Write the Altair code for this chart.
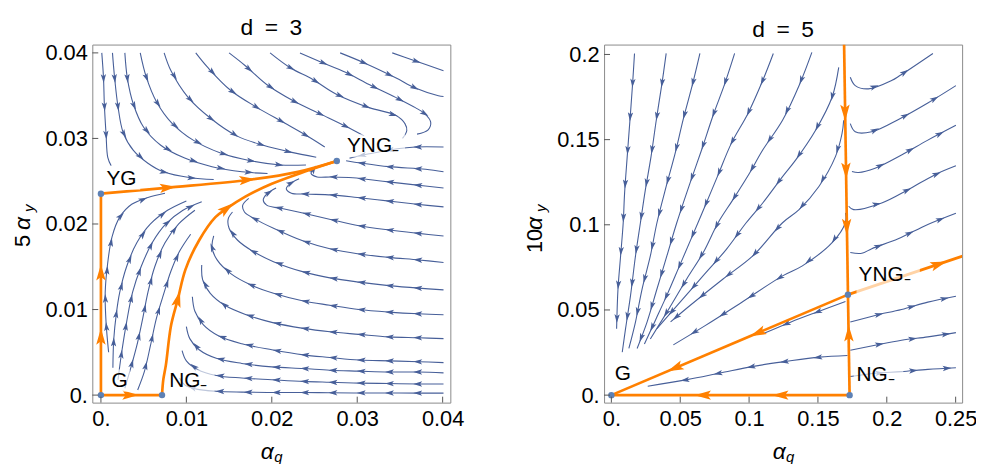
import math
import altair as alt
import pandas as pd

BLUE = "#475f99"
ORANGE = "#ff8000"
DOT = "#5e81b5"
FRAME = "#8a8a8a"
TICK = "#555555"
FONT = "Liberation Sans"
PW = 361
PH = 361
BLUE_ARROW = "M0,-1L0.6,1L0,0.55L-0.6,1Z"
ORANGE_ARROW = "M0,-1L0.55,0.9L0,0.5L-0.55,0.9Z"
LABEL_EXPR = "datum.value == 0 ? '0.' : format(datum.value, '.2~f')"

# ---------------- d = 3 ----------------
D3_X_DOMAIN = [-0.00101, 0.0409]
D3_Y_DOMAIN = [-0.00088, 0.04097]
D3_X_TICKS = [0, 0.01, 0.02, 0.03, 0.04]
D3_Y_TICKS = [0, 0.01, 0.02, 0.03, 0.04]

D3_A1 = [(0.0001, 0.0400), (0.0003, 0.0371), (0.0004, 0.0340), (0.0006, 0.0305), (0.0008, 0.0278), (0.0012, 0.0268)]
D3_A2 = [(0.00135, 0.0400), (0.0016, 0.0371), (0.0020, 0.0337), (0.0026, 0.0307), (0.0038, 0.0286), (0.0055, 0.0271), (0.0073, 0.0261), (0.0105, 0.0254), (0.0132, 0.0252)]
D3_A3 = [(0.0028, 0.0400), (0.0031, 0.0370), (0.0038, 0.0340), (0.0050, 0.0313), (0.0070, 0.0292), (0.0098, 0.0277), (0.0130, 0.0267), (0.0165, 0.0261), (0.0195, 0.0259)]
D3_A4 = [(0.0046, 0.0400), (0.0053, 0.0372), (0.0065, 0.0343), (0.0083, 0.0318), (0.0108, 0.0298), (0.0140, 0.0283), (0.0175, 0.0274), (0.0210, 0.0269), (0.0240, 0.0269)]
D3_A5 = [(0.0074, 0.0400), (0.0082, 0.0379), (0.0102, 0.0348), (0.0129, 0.0323), (0.0159, 0.0303), (0.0190, 0.0292), (0.0222, 0.0284), (0.0252, 0.0278)]
D3_A6 = [(0.0111, 0.0400), (0.0125, 0.0383), (0.0152, 0.0356), (0.0183, 0.0336), (0.0215, 0.0318), (0.0243, 0.0302), (0.0262, 0.0290)]
D3_A7 = [(0.0150, 0.0400), (0.0169, 0.0385), (0.0194, 0.0363), (0.0225, 0.0344), (0.0256, 0.0329), (0.0287, 0.0314), (0.0308, 0.0303)]
D3_H2 = [(0.0198, 0.0400), (0.0221, 0.0383), (0.0248, 0.0369), (0.0275, 0.0352), (0.0314, 0.0336), (0.0345, 0.0327), (0.0356, 0.0317), (0.0358, 0.0309), (0.0353, 0.0300)]
D3_H1 = [(0.0233, 0.0400), (0.0256, 0.0390), (0.0287, 0.0377), (0.0314, 0.0363), (0.0345, 0.0348), (0.0368, 0.0336), (0.0379, 0.0329), (0.0386, 0.0319), (0.0383, 0.0310), (0.0370, 0.0305)]
D3_T1 = [(0.0280, 0.0400), (0.0309, 0.0388), (0.0345, 0.0371), (0.0368, 0.0359), (0.0395, 0.0350), (0.0401, 0.0349)]
D3_T2 = [(0.0341, 0.0400), (0.0364, 0.0392), (0.0401, 0.0379)]
D3_R1 = [(0.0401, 0.0290), (0.0368, 0.0290), (0.0347, 0.0288), (0.0314, 0.0282), (0.0291, 0.0277)]
D3_R2 = [(0.0401, 0.0261), (0.0380, 0.0264), (0.0337, 0.0267), (0.0306, 0.0271), (0.0287, 0.0274)]
D3_R3 = [(0.0401, 0.0242), (0.0365, 0.0246), (0.0330, 0.0250), (0.0295, 0.0254), (0.0270, 0.0255), (0.0253, 0.0255), (0.0246, 0.0259), (0.0249, 0.0264), (0.0260, 0.0269)]
D3_R4 = [(0.0401, 0.0220), (0.0370, 0.0223), (0.0335, 0.0227), (0.0300, 0.0231), (0.0270, 0.0234), (0.0240, 0.0235), (0.0223, 0.0236), (0.0217, 0.0241), (0.0221, 0.0247), (0.0232, 0.0253)]
D3_CA = [(0.0401, 0.0186), (0.0372, 0.0189), (0.0337, 0.0193), (0.0302, 0.0198), (0.0270, 0.0205), (0.0240, 0.0212), (0.0212, 0.0218), (0.0194, 0.0222), (0.0190, 0.0228), (0.0194, 0.0235), (0.0205, 0.0242)]
D3_CB = [(0.0401, 0.0155), (0.0372, 0.0158), (0.0337, 0.0161), (0.0302, 0.0165), (0.0268, 0.0171), (0.0237, 0.0180), (0.0202, 0.0195), (0.0180, 0.0206), (0.0168, 0.0214), (0.0166, 0.0222), (0.0173, 0.0230)]
D3_CC = [(0.0401, 0.0123), (0.0372, 0.0125), (0.0337, 0.0128), (0.0302, 0.0132), (0.0268, 0.0137), (0.0237, 0.0144), (0.0202, 0.0156), (0.0178, 0.0168), (0.0160, 0.0181), (0.0150, 0.0195), (0.0149, 0.0206), (0.0154, 0.0214)]
D3_CD = [(0.0401, 0.0094), (0.0372, 0.0095), (0.0337, 0.0097), (0.0302, 0.0100), (0.0268, 0.0105), (0.0237, 0.0110), (0.0202, 0.0119), (0.0175, 0.0129), (0.0152, 0.0142), (0.0136, 0.0158), (0.0130, 0.0173), (0.0132, 0.0186)]
D3_CE = [(0.0401, 0.0066), (0.0372, 0.0067), (0.0337, 0.0068), (0.0302, 0.0071), (0.0268, 0.0074), (0.0237, 0.0078), (0.0200, 0.0085), (0.0170, 0.0094), (0.0145, 0.0105), (0.0128, 0.0119), (0.0119, 0.0135), (0.0118, 0.0152)]
D3_CF = [(0.0401, 0.0038), (0.0372, 0.0039), (0.0337, 0.0040), (0.0302, 0.0041), (0.0268, 0.0044), (0.0237, 0.0047), (0.0200, 0.0053), (0.0165, 0.0060), (0.0138, 0.0069), (0.0120, 0.0082), (0.0110, 0.0098), (0.0107, 0.0115)]
D3_CG = [(0.0401, 0.0026), (0.0372, 0.0027), (0.0337, 0.0027), (0.0302, 0.0028), (0.0268, 0.0029), (0.0237, 0.0031), (0.0200, 0.0033), (0.0165, 0.0037), (0.0135, 0.0043), (0.0115, 0.0053), (0.0104, 0.0066), (0.0100, 0.0080)]
D3_CH = [(0.0401, 0.0013), (0.0372, 0.0013), (0.0337, 0.00135), (0.0302, 0.0014), (0.0268, 0.0015), (0.0237, 0.0016), (0.0200, 0.0018), (0.0165, 0.0020), (0.0135, 0.0023), (0.0113, 0.0030), (0.0100, 0.0040), (0.0095, 0.0052)]
D3_CI = [(0.0401, 0.00023), (0.0372, 0.00023), (0.0337, 0.00025), (0.0302, 0.00025), (0.0268, 0.00028), (0.0237, 0.0003), (0.0200, 0.0003), (0.0165, 0.00035), (0.0135, 0.00045), (0.0112, 0.0007), (0.0098, 0.0012), (0.0092, 0.0020)]
D3_F1 = [(0.0009, 0.0050), (0.0006, 0.0085), (0.0005, 0.0120), (0.0008, 0.0155), (0.0013, 0.0185), (0.0022, 0.0208), (0.0036, 0.0223), (0.0055, 0.0231), (0.0075, 0.0236)]
D3_F2 = [(0.0014, 0.0032), (0.0015, 0.0065), (0.0018, 0.0095), (0.0022, 0.0120), (0.0030, 0.0150), (0.0042, 0.0178), (0.0058, 0.0200), (0.0078, 0.0216), (0.0100, 0.0227)]
D3_F3 = [(0.0020, 0.0018), (0.0024, 0.0048), (0.0030, 0.0085), (0.0037, 0.0120), (0.0047, 0.0150), (0.0060, 0.0178), (0.0076, 0.0200), (0.0096, 0.0216), (0.0118, 0.0226)]
D3_F4 = [(0.0028, 0.0008), (0.0035, 0.0032), (0.0043, 0.0062), (0.0049, 0.0090), (0.0055, 0.0120), (0.0063, 0.0150), (0.0075, 0.0178), (0.0091, 0.0200), (0.0110, 0.0216)]
D3_F5 = [(0.0043, 0.0006), (0.0051, 0.0028), (0.0058, 0.0058), (0.0065, 0.0090), (0.0074, 0.0120), (0.0082, 0.0145), (0.0092, 0.0168), (0.0105, 0.0188)]
D3_STREAMS = [D3_A1, D3_A2, D3_A3, D3_A4, D3_A5, D3_A6, D3_A7, D3_H2, D3_H1, D3_T1, D3_T2,
              D3_R1, D3_R2, D3_R3, D3_R4, D3_CA, D3_CB, D3_CC, D3_CD, D3_CE, D3_CF, D3_CG, D3_CH, D3_CI,
              D3_F1, D3_F2, D3_F3, D3_F4, D3_F5]

D3_OR_G_NG = [(0.0, 0.0), (0.00715, 0.0)]
D3_OR_G_YG = [(0.0, 0.0), (0.0, 0.02354)]
D3_OR_YG_YNG = [(0.0, 0.02354), (0.0076, 0.02423), (0.01765, 0.0252), (0.02306, 0.02609), (0.02761, 0.02736)]
D3_OR_NG_YNG = [(0.00715, 0.0), (0.0073, 0.0018), (0.0076, 0.0035), (0.0082, 0.0081), (0.0090, 0.0112), (0.0099, 0.0147),
                (0.0115, 0.0181), (0.0134, 0.0208), (0.0147, 0.0218), (0.0169, 0.0232), (0.0200, 0.0247), (0.0238, 0.0261), (0.02761, 0.02736)]
D3_ORANGE = [D3_OR_G_NG, D3_OR_G_YG, D3_OR_YG_YNG, D3_OR_NG_YNG]
D3_OR_ARROWS = [(0, 0.0034, 0.0), (1, 0.0, 0.0068), (1, 0.0, 0.0143), (2, 0.0078, 0.02425), (2, 0.0171, 0.02515),
                (3, 0.0090, 0.0112), (3, 0.0147, 0.0218)]
D3_DOTS = [(0.0, 0.0), (0.00715, 0.0), (0.0, 0.02354), (0.02761, 0.02736)]
D3_LABELS = [("YG", 0.00065, 0.0246), ("G", 0.00124, 0.0010), ("NG₋", 0.0080, 0.0010), ("YNG₋", 0.0288, 0.0284)]
D3_BOXES = [(0.0004, 0.0046, 0.0240, 0.0268), (0.0010, 0.0034, 0.0004, 0.0030),
            (0.0078, 0.0133, 0.0004, 0.0030), (0.0286, 0.0356, 0.0278, 0.0305)]

# ---------------- d = 5 ----------------
D5_X_DOMAIN = [-0.0053, 0.2547]
D5_Y_DOMAIN = [-0.0044, 0.2058]
D5_X_TICKS = [0, 0.05, 0.1, 0.15, 0.2, 0.25]
D5_Y_TICKS = [0, 0.05, 0.1, 0.15, 0.2]

D5_S1 = [(0.0168, 0.2006), (0.0154, 0.1827), (0.0134, 0.1604), (0.0115, 0.1400), (0.0096, 0.1186), (0.0086, 0.1012), (0.0067, 0.0817), (0.0048, 0.0623), (0.0038, 0.0390)]
D5_S2 = [(0.0398, 0.2006), (0.0367, 0.1827), (0.0326, 0.1614), (0.0288, 0.1400), (0.0247, 0.1206), (0.0211, 0.1012), (0.0175, 0.0817), (0.0139, 0.0584), (0.0103, 0.0390), (0.0079, 0.0252)]
D5_S3 = [(0.0643, 0.2006), (0.0590, 0.1827), (0.0523, 0.1623), (0.0463, 0.1419), (0.0398, 0.1225), (0.0331, 0.1012), (0.0283, 0.0817), (0.0223, 0.0623), (0.0175, 0.0429), (0.0127, 0.0274)]
D5_S4 = [(0.0895, 0.2006), (0.0823, 0.1827), (0.0739, 0.1643), (0.0655, 0.1439), (0.0571, 0.1245), (0.0475, 0.1012), (0.0403, 0.0817), (0.0331, 0.0623), (0.0259, 0.0429), (0.0187, 0.0274)]
D5_S5 = [(0.1176, 0.2006), (0.1099, 0.1847), (0.0991, 0.1652), (0.0871, 0.1478), (0.0775, 0.1293), (0.0675, 0.1100), (0.0575, 0.0910), (0.0490, 0.0750), (0.0405, 0.0590), (0.0320, 0.0440), (0.0240, 0.0300)]
D5_S6 = [(0.1456, 0.2012), (0.1368, 0.1827), (0.1243, 0.1614), (0.1099, 0.1439), (0.1003, 0.1303), (0.0883, 0.1148), (0.0775, 0.1012), (0.0667, 0.0837), (0.0547, 0.0682), (0.0403, 0.0487), (0.0283, 0.0330)]
D5_S7 = [(0.1651, 0.1924), (0.1603, 0.1750), (0.1483, 0.1555), (0.1339, 0.1381), (0.1243, 0.1283), (0.1099, 0.1128), (0.0979, 0.1012), (0.0835, 0.0856), (0.0667, 0.0701), (0.0499, 0.0546), (0.0331, 0.0390)]
D5_S8 = [(0.1687, 0.1614), (0.1675, 0.1536), (0.1627, 0.1400), (0.1507, 0.1225), (0.1363, 0.1089), (0.1243, 0.1012), (0.1027, 0.0817), (0.0811, 0.0682), (0.0571, 0.0526), (0.0430, 0.0430)]
D5_S9 = [(0.1700, 0.1070), (0.1699, 0.1012), (0.1603, 0.0895), (0.1387, 0.0759), (0.1243, 0.0700), (0.0945, 0.0544), (0.0681, 0.0408), (0.0450, 0.0295)]
D5_SB = [(0.1700, 0.0550), (0.1500, 0.0490), (0.1305, 0.0430), (0.1100, 0.0360)]
D5_LA = [(0.1715, 0.0233), (0.1510, 0.0223), (0.1270, 0.0198), (0.1030, 0.0169), (0.0790, 0.0130), (0.0550, 0.0091), (0.0264, 0.0052)]
D5_R1 = [(0.1735, 0.1866), (0.1771, 0.1817), (0.1867, 0.1798), (0.2035, 0.1847), (0.2095, 0.1876), (0.2335, 0.2006)]
D5_R2 = [(0.1735, 0.1594), (0.1771, 0.1546), (0.1890, 0.1546), (0.2095, 0.1623), (0.2298, 0.1715), (0.2502, 0.1817)]
D5_R3 = [(0.1747, 0.1313), (0.1795, 0.1307), (0.1915, 0.1332), (0.2107, 0.1410), (0.2298, 0.1497), (0.2502, 0.1584)]
D5_R4 = [(0.1723, 0.1109), (0.1759, 0.1089), (0.1963, 0.1128), (0.2155, 0.1206), (0.2347, 0.1293), (0.2502, 0.1346)]
D5_R5 = [(0.1735, 0.0837), (0.1819, 0.0833), (0.1891, 0.0860), (0.2083, 0.0918), (0.2298, 0.1002), (0.2502, 0.1068)]
D5_R6 = [(0.1735, 0.0429), (0.1915, 0.0468), (0.2107, 0.0503), (0.2298, 0.0546), (0.2502, 0.0581)]
D5_R7 = [(0.1735, 0.0264), (0.1915, 0.0293), (0.2107, 0.0322), (0.2298, 0.0342), (0.2502, 0.0367)]
D5_R8 = [(0.1735, 0.0109), (0.1915, 0.0128), (0.2107, 0.0138), (0.2298, 0.0151), (0.2502, 0.0161)]
D5_STREAMS = [D5_S1, D5_S2, D5_S3, D5_S4, D5_S5, D5_S6, D5_S7, D5_S8, D5_S9, D5_SB, D5_LA,
              D5_R1, D5_R2, D5_R3, D5_R4, D5_R5, D5_R6, D5_R7, D5_R8]

D5_OR_TOP = [(0.1690, 0.2058), (0.1718, 0.0590)]
D5_OR_NG_YNG = [(0.1730, 0.0), (0.1718, 0.0590)]
D5_OR_YNG_G = [(0.1718, 0.0590), (0.0, 0.0)]
D5_OR_YNG_OUT = [(0.1718, 0.0590), (0.2550, 0.0816)]
D5_OR_NG_G = [(0.1730, 0.0), (0.0, 0.0)]
D5_ORANGE = [D5_OR_TOP, D5_OR_NG_YNG, D5_OR_YNG_G, D5_OR_YNG_OUT, D5_OR_NG_G]
D5_OR_ARROWS = [(0, 0.1697, 0.166), (0, 0.1704, 0.132), (0, 0.1709, 0.099), (1, 0.1724, 0.036),
                (2, 0.0465, 0.016), (2, 0.1065, 0.0366), (3, 0.2375, 0.0768), (4, 0.0667, 0.0), (4, 0.1230, 0.0)]
D5_DOTS = [(0.0, 0.0), (0.1730, 0.0), (0.1718, 0.0590)]
D5_LABELS = [("G", 0.0024, 0.0090), ("NG₋", 0.1780, 0.0085), ("YNG₋", 0.1795, 0.0670)]
D5_BOXES = [(-0.003, 0.020, 0.008, 0.025), (0.176, 0.212, 0.004, 0.021), (0.178, 0.224, 0.060, 0.082)]


def scales(xdom, ydom, xticks, yticks):
    X = alt.X("x:Q", scale=alt.Scale(domain=xdom, nice=False, zero=False),
              axis=alt.Axis(values=xticks, labelExpr=LABEL_EXPR, ticks=False, domain=False, grid=False,
                            labelFont=FONT, labelFontSize=22, labelColor="black", labelPadding=6,
                            labelFlush=False, title=None))
    Y = alt.Y("y:Q", scale=alt.Scale(domain=ydom, nice=False, zero=False),
              axis=alt.Axis(values=yticks, labelExpr=LABEL_EXPR, ticks=False, domain=False, grid=False,
                            labelFont=FONT, labelFontSize=22, labelColor="black", labelPadding=5,
                            labelFlush=False, title=None))
    return X, Y


def along(pts, sx, sy, first, step):
    px = [(x * sx, y * sy) for x, y in pts]
    segs = [math.hypot(px[i + 1][0] - px[i][0], px[i + 1][1] - px[i][1]) for i in range(len(px) - 1)]
    total = sum(segs)
    out = []
    d = first
    while d < total - 5:
        acc = 0.0
        for i, L in enumerate(segs):
            if acc + L >= d and L > 0:
                t = (d - acc) / L
                x = pts[i][0] + t * (pts[i + 1][0] - pts[i][0])
                y = pts[i][1] + t * (pts[i + 1][1] - pts[i][1])
                ang = math.degrees(math.atan2(px[i + 1][0] - px[i][0], px[i + 1][1] - px[i][1])) % 360
                out.append({"x": x, "y": y, "ang": ang})
                break
            acc += L
        d += step
    return out


def orange_dir(path, x, y, sx, sy):
    best = None
    for i in range(len(path) - 1):
        (x0, y0), (x1, y1) = path[i], path[i + 1]
        ax, ay, bx, by = x0 * sx, y0 * sy, x1 * sx, y1 * sy
        vx, vy = bx - ax, by - ay
        L2 = vx * vx + vy * vy
        t = 0 if L2 == 0 else max(0, min(1, ((x * sx - ax) * vx + (y * sy - ay) * vy) / L2))
        dist = math.hypot(ax + t * vx - x * sx, ay + t * vy - y * sy)
        if best is None or dist < best[0]:
            best = (dist, math.degrees(math.atan2(vx, vy)) % 360)
    return best[1]


def lines_df(paths):
    rows = []
    for sid, pts in enumerate(paths):
        for k, (x, y) in enumerate(pts):
            rows.append({"x": x, "y": y, "id": sid, "k": k})
    return pd.DataFrame(rows)


def text_layer(txt, x, y, size, italic=False, angle=None, align="center"):
    kw = dict(font=FONT, fontSize=size, align=align, baseline="alphabetic", color="black")
    if italic:
        kw["fontStyle"] = "italic"
    if angle is not None:
        kw["angle"] = angle
    return alt.Chart(pd.DataFrame({"t": [txt]})).mark_text(**kw).encode(
        text="t:N", x=alt.value(x), y=alt.value(y))


def panel(streams, oranges, or_arrows, dots, labels, boxes, xdom, ydom, xticks, yticks,
          title, lead, first, step):
    sx = PW / (xdom[1] - xdom[0])
    sy = PH / (ydom[1] - ydom[0])
    X, Y = scales(xdom, ydom, xticks, yticks)
    layers = []
    layers.append(alt.Chart(lines_df(streams)).mark_line(
        color=BLUE, strokeWidth=1.1, interpolate="catmull-rom", clip=True
    ).encode(x=X, y=Y, detail="id:N", order="k:Q"))
    arr = []
    for s in streams:
        arr.extend(along(s, sx, sy, first, step))
    layers.append(alt.Chart(pd.DataFrame(arr)).mark_point(
        shape=BLUE_ARROW, filled=True, size=80, color=BLUE, opacity=1, strokeWidth=0, clip=True
    ).encode(x=X, y=Y, angle=alt.Angle("ang:Q", scale=None)))
    layers.append(alt.Chart(lines_df(oranges)).mark_line(
        color=ORANGE, strokeWidth=2.7, interpolate="catmull-rom", clip=True
    ).encode(x=X, y=Y, detail="id:N", order="k:Q"))
    oa = [{"x": x, "y": y, "ang": orange_dir(oranges[p], x, y, sx, sy)} for p, x, y in or_arrows]
    layers.append(alt.Chart(pd.DataFrame(oa)).mark_point(
        shape=ORANGE_ARROW, filled=True, size=300, color=ORANGE, opacity=1, strokeWidth=0, clip=True
    ).encode(x=X, y=Y, angle=alt.Angle("ang:Q", scale=None)))
    bdf = pd.DataFrame([{"x": a, "x2": b, "y": c, "y2": d} for a, b, c, d in boxes])
    layers.append(alt.Chart(bdf).mark_rect(color="white", opacity=0.65, clip=True).encode(
        x=X, x2="x2:Q", y=Y, y2="y2:Q"))
    layers.append(alt.Chart(pd.DataFrame(dots, columns=["x", "y"])).mark_circle(
        color=DOT, size=42, opacity=1).encode(x=X, y=Y))
    layers.append(alt.Chart(pd.DataFrame(labels, columns=["t", "x", "y"])).mark_text(
        align="left", baseline="alphabetic", font=FONT, fontSize=21, color="black"
    ).encode(x=X, y=Y, text="t:N"))
    layers.append(alt.Chart(pd.DataFrame({"x": xticks})).mark_rule(color=TICK, strokeWidth=1).encode(
        x=X, y=alt.value(PH), y2=alt.value(PH - 6)))
    layers.append(alt.Chart(pd.DataFrame({"y": yticks})).mark_rule(color=TICK, strokeWidth=1).encode(
        y=Y, x=alt.value(0), x2=alt.value(6)))
    # axis titles: alpha_q below, lead + alpha_y on the left
    layers.append(text_layer("α", 176.5, 418, 23, italic=True))
    layers.append(text_layer("q", 183.5, 421, 15, italic=True, align="left"))
    layers.append(text_layer(lead, -63, 198, 22, angle=270))
    layers.append(text_layer("α", -63, 180.5, 23, italic=True, angle=270))
    layers.append(text_layer("y", -59, 165, 15, italic=True, angle=270))
    return alt.layer(*layers).properties(
        width=PW, height=PH,
        title=alt.TitleParams(title, fontSize=23, font=FONT, fontWeight="normal", color="black",
                              frame="group", anchor="middle", offset=2))


p1 = panel(D3_STREAMS, D3_ORANGE, D3_OR_ARROWS, D3_DOTS, D3_LABELS, D3_BOXES,
           D3_X_DOMAIN, D3_Y_DOMAIN, D3_X_TICKS, D3_Y_TICKS, "d\u2002=\u20023", "5", 26, 28.5)
p2 = panel(D5_STREAMS, D5_ORANGE, D5_OR_ARROWS, D5_DOTS, D5_LABELS, D5_BOXES,
           D5_X_DOMAIN, D5_Y_DOMAIN, D5_X_TICKS, D5_Y_TICKS, "d\u2002=\u20025", "10", 30, 34)

chart = alt.hconcat(p1, p2, spacing=58).configure_view(
    stroke=FRAME, strokeWidth=1
).properties(padding={"left": 3, "top": 6, "right": -2, "bottom": -4})

chart.save("out.html", embed_options={"renderer": "svg", "actions": False})
